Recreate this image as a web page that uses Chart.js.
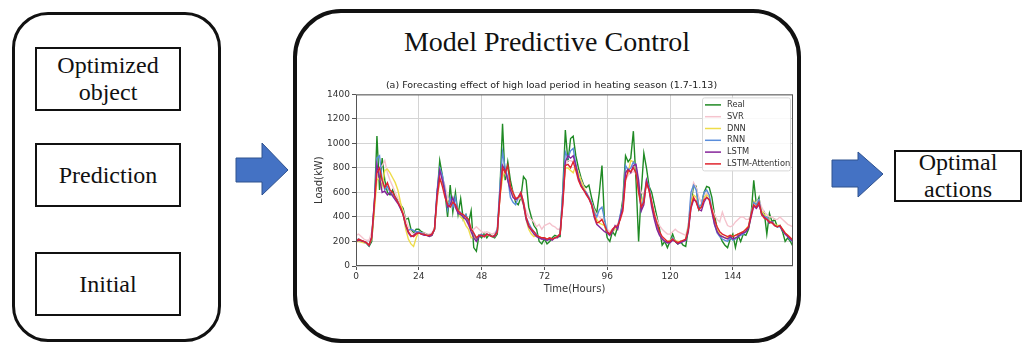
<!DOCTYPE html>
<html>
<head>
<meta charset="utf-8">
<script src="https://cdn.jsdelivr.net/npm/chart.js@4.4.1/dist/chart.umd.min.js"></script>
<style>
html, body { margin: 0; padding: 0; background: #fff; }
#page { position: relative; width: 1032px; height: 347px; overflow: hidden; font-family: "Liberation Serif", "Times New Roman", serif; color: #111; }
.rbox { position: absolute; box-sizing: border-box; border: 3px solid #111; }
.box { position: absolute; box-sizing: border-box; border: 2px solid #111; display: flex; flex-direction: column; align-items: center; justify-content: center; font-family: "Liberation Serif", serif; font-size: 24px; line-height: 27px; text-align: center; }
</style>
</head>
<body>
<div id="page">
  <svg style="position:absolute;left:0;top:0" width="1032" height="347">
    <polygon points="236,158 262,158 262,143 288,170 262,195 262,182 236,182" fill="#4472c4" stroke="#2f528f" stroke-width="1"/>
    <polygon points="832,160 858,160 858,152 883,174 858,197 858,187 832,187" fill="#4472c4" stroke="#2f528f" stroke-width="1"/>
  </svg>
  <div class="rbox" style="left:12px;top:12px;width:209px;height:330px;border-radius:36px;"></div>
  <div class="box" style="left:35px;top:47px;width:146px;height:64px;">Optimized<br>object</div>
  <div class="box" style="left:35px;top:143px;width:146px;height:64px;">Prediction</div>
  <div class="box" style="left:35px;top:252px;width:146px;height:64px;">Initial</div>
  <div class="rbox" style="left:293px;top:9px;width:508px;height:334px;border-radius:48px;border-width:4px;"></div>
  <div style="position:absolute;left:293px;width:508px;top:26px;text-align:center;font-family:'Liberation Serif',serif;font-size:28px;line-height:32px;">Model Predictive Control</div>
  <div class="box" style="left:894px;top:150px;width:128px;height:52px;">Optimal<br>actions</div>
  <div style="position:absolute;left:310px;top:78px;width:490px;height:220px;">
    <canvas id="chart" width="490" height="220"></canvas>
  </div>
</div>
<script>
// 時間 0..167 (1.7-1.13)
const hours = Array.from({ length: 168 }, (_, i) => i);
const xTicks = [0, 24, 48, 72, 96, 120, 144];
const yTicks = [0, 200, 400, 600, 800, 1000, 1200, 1400];

const real = [
  200,210,205,195,185,160,200,480,1060,620,880,700,600,580,620,560,540,500,470,380,390,300,270,300,
  300,280,270,260,250,250,300,580,860,740,600,400,660,440,600,420,550,380,420,350,450,150,120,250,
  230,270,230,260,240,230,260,620,1160,700,850,700,600,520,500,560,730,700,480,400,330,300,200,180,
  220,180,200,230,250,240,240,600,1110,850,1040,1060,900,800,720,660,640,660,560,480,430,600,820,350,
  230,200,280,250,320,400,550,900,850,880,1100,700,200,600,920,800,650,600,500,400,300,170,200,150,
  200,260,200,180,200,170,160,300,500,660,650,460,500,600,650,640,560,420,300,250,200,170,150,220,
  260,150,250,200,260,250,300,420,700,500,560,420,440,260,430,360,380,320,330,280,200,230,200,160
];
const svr = [
  250,260,240,220,210,210,280,480,760,800,820,860,760,700,650,600,550,500,450,380,320,280,260,270,
  280,270,270,260,260,270,310,520,700,720,660,560,520,500,480,450,420,400,380,330,300,300,320,300,
  280,270,280,270,260,270,300,560,760,760,700,650,600,560,540,560,520,450,400,380,360,320,340,300,
  330,340,350,330,320,300,300,480,820,860,860,850,820,760,700,650,600,560,520,460,420,400,380,350,
  300,280,300,320,340,400,480,700,740,760,770,760,680,600,580,660,620,540,440,380,330,300,280,260,
  260,280,300,280,270,260,250,330,560,680,640,560,520,560,600,560,480,420,380,360,440,380,330,320,
  330,360,380,400,400,380,380,420,480,520,540,480,440,420,400,400,380,380,400,380,360,340,330,320
];
const dnn = [
  200,200,195,190,185,175,220,450,700,720,650,780,790,760,720,680,620,520,430,300,220,180,160,230,
  280,260,260,250,240,250,300,560,700,680,600,520,520,520,500,450,400,380,330,300,230,240,220,250,
  260,240,250,250,240,240,280,560,720,780,700,640,580,540,560,560,500,380,300,260,240,250,240,230,
  230,220,230,220,230,240,260,550,800,800,780,760,820,760,690,640,600,560,520,450,380,350,340,330,
  270,260,280,300,310,400,500,780,760,860,850,800,600,520,580,680,620,500,420,320,260,220,200,200,
  210,230,210,200,200,200,220,330,520,580,560,500,480,560,580,560,460,360,300,260,240,230,230,250,
  240,250,260,270,280,300,330,430,530,500,520,450,420,400,370,360,340,330,330,300,270,250,230,210
];
const rnn = [
  210,220,210,200,185,165,230,520,880,900,700,620,650,600,580,560,520,470,420,330,290,300,290,280,
  280,270,260,250,250,260,300,620,800,740,620,460,560,480,560,430,440,400,420,360,300,260,220,250,
  260,240,260,250,240,250,300,650,930,800,720,560,520,500,560,600,520,400,350,310,280,260,230,220,
  220,210,220,220,230,240,260,600,930,880,940,960,830,720,660,620,600,560,520,440,400,460,480,380,
  280,260,290,320,320,420,500,820,780,800,850,820,650,460,560,700,650,520,400,320,260,220,200,190,
  200,230,200,190,190,200,210,320,600,660,620,480,500,600,620,580,460,340,270,240,220,210,200,230,
  210,220,240,250,260,280,320,430,520,500,540,430,400,400,360,360,330,320,320,290,260,240,210,200
];
const lstm = [
  200,210,205,200,190,170,240,520,830,720,600,610,580,600,570,540,510,470,420,330,270,240,250,270,
  270,260,250,250,240,250,300,600,780,700,600,480,500,560,480,430,420,400,380,340,280,230,200,240,
  250,240,260,250,240,240,280,580,820,780,700,620,560,540,560,580,500,380,320,290,260,240,230,220,
  220,210,220,210,230,230,260,520,850,900,880,900,820,720,660,620,590,550,500,400,340,320,300,280,
  270,250,280,330,300,400,480,760,790,760,820,830,700,450,500,700,620,480,380,300,250,220,200,190,
  190,210,200,180,190,200,210,280,470,540,530,460,450,520,560,540,440,340,280,250,240,230,220,240,
  220,230,240,260,270,280,310,400,490,470,500,430,400,380,350,360,330,320,330,290,260,240,220,200
];
const lstmAtt = [
  200,220,210,200,190,170,230,500,760,800,700,640,680,620,600,560,520,480,420,340,280,250,240,260,
  270,260,260,250,250,260,300,560,720,650,560,500,480,520,500,450,430,420,400,380,300,270,230,250,
  250,240,260,250,240,250,280,560,800,760,820,650,600,550,560,600,520,400,330,300,280,250,240,230,
  230,220,230,220,230,240,260,500,820,830,800,850,780,700,650,620,580,550,500,420,350,360,380,330,
  280,260,300,320,330,380,450,700,780,770,800,760,600,480,520,680,620,520,420,350,280,240,220,200,
  200,220,200,190,200,210,220,300,480,560,520,460,480,540,560,540,460,380,320,280,260,250,240,250,
  240,250,260,270,280,300,320,420,500,480,520,420,390,380,360,350,330,320,330,300,270,250,230,210
];

const seriesNames = ['Real', 'SVR', 'DNN', 'RNN', 'LSTM', 'LSTM-Attention'];
const seriesData = [real, svr, dnn, rnn, lstm, lstmAtt];
const seriesColors = ['#1f8a24', '#f5c4ce', '#eedc4a', '#5a8ddb', '#86249a', '#e0242e'];

const tickFont = { family: 'DejaVu Sans', size: 9 };
const labelFont = { family: 'DejaVu Sans', size: 10 };

// 枠線と凡例（プロット内右上）
const framePlugin = {
  id: 'frameLegend',
  afterDraw(chart) {
    const ctx = chart.ctx;
    const a = chart.chartArea;
    ctx.save();
    ctx.strokeStyle = '#555';
    ctx.lineWidth = 1;
    ctx.strokeRect(a.left + 0.5, a.top + 0.5, a.right - a.left - 1, a.bottom - a.top - 1);

    const bx = a.right - 91, by = a.top + 3, bw = 88, bh = 73;
    ctx.fillStyle = 'rgba(255,255,255,0.85)';
    ctx.strokeStyle = '#d8d8d8';
    ctx.beginPath();
    ctx.roundRect(bx + 0.5, by + 0.5, bw, bh, 2);
    ctx.fill();
    ctx.stroke();

    ctx.font = '8.3px "DejaVu Sans"';
    ctx.textBaseline = 'middle';
    chart.data.datasets.forEach((ds, i) => {
      const y = by + 7.5 + i * 11.8;
      ctx.strokeStyle = ds.borderColor;
      ctx.lineWidth = 1.5;
      ctx.beginPath();
      ctx.moveTo(bx + 3, y);
      ctx.lineTo(bx + 19, y);
      ctx.stroke();
      ctx.fillStyle = '#333';
      ctx.fillText(ds.label, bx + 25, y);
    });
    ctx.restore();
  }
};

const ctx = document.getElementById('chart');
const chart = new Chart(ctx, {
  type: 'line',
  data: {
    labels: hours,
    datasets: seriesNames.map((name, i) => ({
      label: name,
      data: seriesData[i],
      borderColor: seriesColors[i],
      backgroundColor: seriesColors[i],
      borderWidth: 1.4,
      pointRadius: 0,
      tension: 0,
      fill: false,
      order: seriesNames.length - i
    }))
  },
  options: {
    responsive: false,
    animation: false,
    devicePixelRatio: 1,
    layout: { padding: { left: 0, right: 7, top: 0, bottom: 0 } },
    plugins: {
      legend: { display: false },
      tooltip: { enabled: false },
      title: {
        display: true,
        text: '(a) Forecasting effect of high load period in heating season (1.7-1.13)',
        font: { family: 'DejaVu Sans', size: 9.5, weight: 'normal' },
        color: '#222',
        padding: { top: 2, bottom: 3 }
      }
    },
    scales: {
      x: {
        type: 'linear',
        min: 0,
        max: 167,
        afterBuildTicks: s => { s.ticks = xTicks.map(v => ({ value: v })); },
        afterFit: s => { s.height = 32; },
        ticks: { font: tickFont, color: '#333', padding: 1, maxRotation: 0, autoSkip: false, callback: v => String(v) },
        grid: { color: '#d4d4d4', lineWidth: 1, tickLength: 4, tickColor: '#555' },
        border: { display: false },
        title: { display: true, text: 'Time(Hours)', font: labelFont, color: '#333', padding: { top: 0, bottom: 3 } }
      },
      y: {
        min: 0,
        max: 1400,
        afterBuildTicks: s => { s.ticks = yTicks.map(v => ({ value: v })); },
        afterFit: s => { s.width = 46; },
        ticks: { font: tickFont, color: '#333', padding: 2, callback: v => String(v) },
        grid: { color: '#d4d4d4', lineWidth: 1, tickLength: 4, tickColor: '#555' },
        border: { display: false },
        title: { display: true, text: 'Load(kW)', font: labelFont, color: '#333', padding: { top: 3, bottom: 0 } }
      }
    }
  },
  plugins: [framePlugin]
});
</script>
</body>
</html>
